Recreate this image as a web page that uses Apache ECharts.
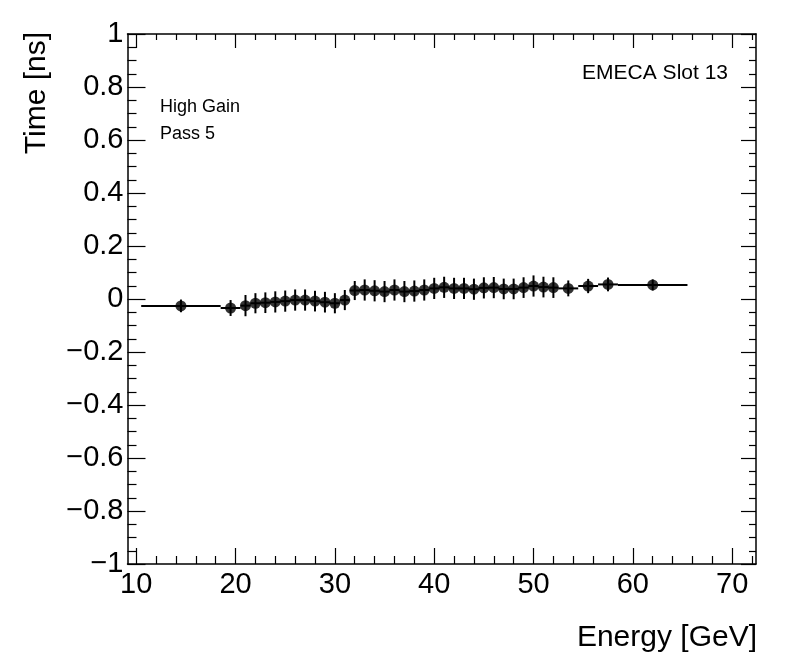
<!DOCTYPE html>
<html>
<head>
<meta charset="utf-8">
<title>EMECA Slot 13</title>
<script src="https://cdn.jsdelivr.net/npm/echarts@6/dist/echarts.min.js"></script>
<style>
    html, body { margin: 0; padding: 0; background: #fff; }
    #chart { width: 796px; height: 672px; }
</style>
</head>
<body>
<div id="chart"></div>
<script>
// bin centres [GeV]
var energy = [14.5, 19.5, 21, 22, 23, 24, 25, 26, 27, 28, 29, 30, 31, 32, 33, 34, 35, 36, 37, 38, 39, 40,
    41, 42, 43, 44, 45, 46, 47, 48, 49, 50, 51, 52, 53.5, 55.5, 57.5, 62];
// half bin widths
var energyErr = [4, 1, 0.5, 0.5, 0.5, 0.5, 0.5, 0.5, 0.5, 0.5, 0.5, 0.5, 0.5, 0.5, 0.5, 0.5, 0.5, 0.5, 0.5, 0.5, 0.5, 0.5,
    0.5, 0.5, 0.5, 0.5, 0.5, 0.5, 0.5, 0.5, 0.5, 0.5, 0.5, 0.5, 1, 1, 1, 3.5];
// time [ns]
var time = [-0.026, -0.034, -0.025, -0.016, -0.014, -0.011, -0.008, -0.004, -0.004, -0.008, -0.012, -0.016, -0.004, 0.032,
    0.034, 0.031, 0.028, 0.034, 0.028, 0.030, 0.034, 0.040, 0.044, 0.040, 0.040, 0.037, 0.042, 0.043, 0.038, 0.038,
    0.043, 0.049, 0.045, 0.043, 0.040, 0.049, 0.055, 0.053];
var timeErr = [0.024, 0.030, 0.040, 0.038, 0.039, 0.040, 0.040, 0.040, 0.040, 0.039, 0.039, 0.038, 0.038, 0.036,
    0.040, 0.040, 0.040, 0.040, 0.040, 0.040, 0.040, 0.040, 0.040, 0.040, 0.040, 0.040, 0.040, 0.040, 0.039, 0.039,
    0.039, 0.040, 0.039, 0.039, 0.030, 0.027, 0.026, 0.021];

// tick positions
var xMajor = [10, 20, 30, 40, 50, 60, 70];
var xMinor = [12, 14, 16, 18, 22, 24, 26, 28, 32, 34, 36, 38, 42, 44, 46, 48, 52, 54, 56, 58, 62, 64, 66, 68, 72];

var font = 'Liberation Sans';

var points = [], bars = [], i;
for (i = 0; i < energy.length; i++) {
    points.push([energy[i], time[i]]);
    bars.push([energy[i], time[i], energyErr[i], timeErr[i]]);
}

function xAxisOf(pos, ticks, len, withLine, withLabel) {
    return {
        type: 'value',
        position: pos,
        min: 9.12,
        max: 72.4,
        axisLine: { show: withLine, onZero: false, lineStyle: { color: '#000', width: 1.5 } },
        axisTick: { show: true, inside: true, length: len, customValues: ticks, lineStyle: { color: '#000', width: 1.2 } },
        axisLabel: {
            show: withLabel,
            customValues: ticks,
            color: '#000',
            fontFamily: font,
            fontSize: 29,
            margin: 6
        },
        splitLine: { show: false }
    };
}

function yAxisOf(pos, len, minorLen, withLabel) {
    return {
        type: 'value',
        position: pos,
        min: -1,
        max: 1,
        interval: 0.2,
        axisLine: { show: true, onZero: false, lineStyle: { color: '#000', width: 1.5 } },
        axisTick: { show: true, inside: true, length: len, lineStyle: { color: '#000', width: 1.2 } },
        minorTick: { show: true, splitNumber: 4, length: minorLen, lineStyle: { color: '#000', width: 1.2 } },
        axisLabel: {
            show: withLabel,
            color: '#000',
            fontFamily: font,
            fontSize: 29,
            margin: 4,
            formatter: function (v) {
                return String(Math.round(v * 10) / 10).replace('-', '\u2212');
            }
        },
        splitLine: { show: false },
        minorSplitLine: { show: false }
    };
}

var chart = echarts.init(document.getElementById('chart'));

var option = {
    backgroundColor: '#fff',
    animation: false,
    grid: {
        left: 127.5,
        right: 40,
        top: 34,
        bottom: 108,
        containLabel: false,
        outerBoundsMode: 'none'
    },
    xAxis: [
        xAxisOf('bottom', xMajor, 16, true, true),
        xAxisOf('bottom', xMinor, 8, false, false),
        xAxisOf('top', xMajor, 14, true, false),
        xAxisOf('top', xMinor, 6, false, false)
    ],
    yAxis: [
        yAxisOf('left', 18, 9, true),
        yAxisOf('right', 15, 7, false)
    ],
    graphic: [
        {
            type: 'text', x: 37, y: 32, rotation: Math.PI / 2,
            style: { text: 'Time [ns]', fontFamily: font, fontSize: 30, fill: '#000', align: 'right', verticalAlign: 'middle' }
        },
        {
            type: 'text', x: 757, y: 638,
            style: { text: 'Energy [GeV]', fontFamily: font, fontSize: 30, fill: '#000', align: 'right', verticalAlign: 'middle' }
        },
        {
            type: 'text', x: 728, y: 73,
            style: { text: 'EMECA Slot 13', fontFamily: font, fontSize: 21, fill: '#000', align: 'right', verticalAlign: 'middle' }
        },
        {
            type: 'text', x: 160, y: 107,
            style: { text: 'High Gain', fontFamily: font, fontSize: 18, fill: '#000', align: 'left', verticalAlign: 'middle' }
        },
        {
            type: 'text', x: 160, y: 134,
            style: { text: 'Pass 5', fontFamily: font, fontSize: 18, fill: '#000', align: 'left', verticalAlign: 'middle' }
        }
    ],
    series: [
        {
            // error bars (x = bin width, y = time error)
            type: 'custom',
            xAxisIndex: 0,
            yAxisIndex: 0,
            silent: true,
            data: bars,
            renderItem: function (params, api) {
                var x = api.value(0), y = api.value(1), ex = api.value(2), ey = api.value(3);
                var l = api.coord([x - ex, y]), r = api.coord([x + ex, y]);
                var b = api.coord([x, y - ey]), t = api.coord([x, y + ey]);
                var st = { stroke: '#000', lineWidth: 2 };
                return {
                    type: 'group',
                    children: [
                        { type: 'line', shape: { x1: l[0], y1: l[1], x2: r[0], y2: r[1] }, style: st },
                        { type: 'line', shape: { x1: b[0], y1: b[1], x2: t[0], y2: t[1] }, style: st }
                    ]
                };
            }
        },
        {
            type: 'scatter',
            xAxisIndex: 0,
            yAxisIndex: 0,
            symbol: 'circle',
            symbolSize: 11,
            itemStyle: { color: '#000' },
            data: points
        }
    ]
};

chart.setOption(option);
</script>
</body>
</html>
